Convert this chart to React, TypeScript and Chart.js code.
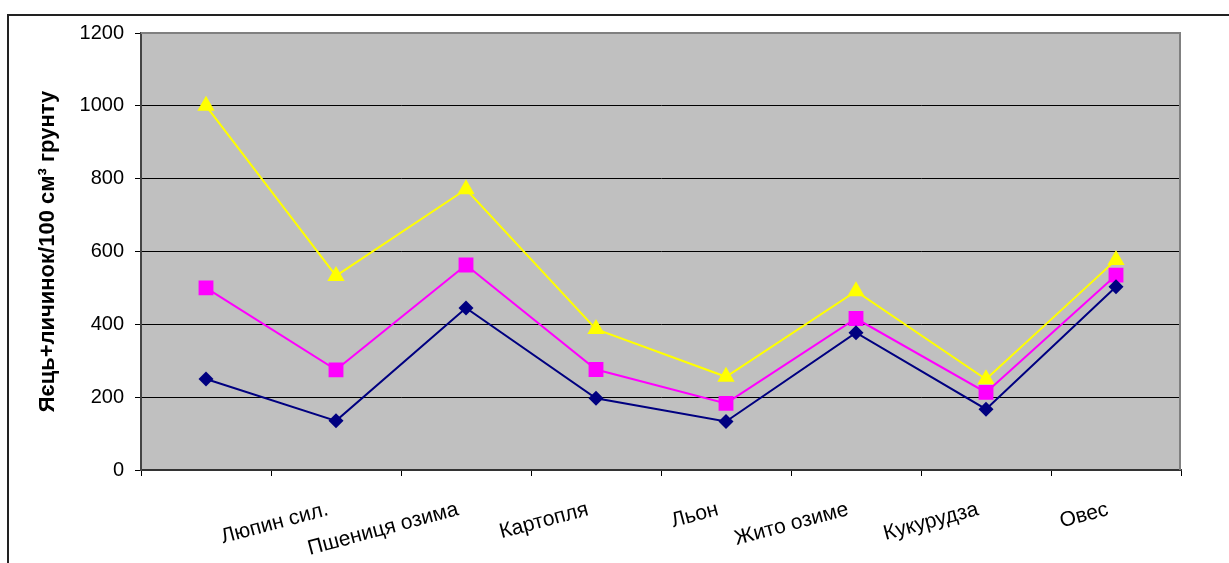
import React, { useEffect, useRef } from 'react';
import { Chart, registerables } from 'chart.js';

Chart.register(...registerables);

// Categories (first category has no label in the original)
const categories: string[] = ['', 'Люпин сил.', 'Пшениця озима', 'Картопля', 'Льон', 'Жито озиме', 'Кукурудза', 'Овес'];

// Series values
const series1: number[] = [250, 135, 445, 197, 133, 377, 167, 503];
const series2: number[] = [500, 275, 563, 276, 183, 416, 213, 535];
const series3: number[] = [1000, 533, 771, 387, 256, 491, 249, 577];

// Y axis
const yMin = 0;
const yMax = 1200;
const yStep = 200;
const yTitle = 'Яєць+личинок/100 см³ грунту';

const FONT = '"Liberation Sans", Arial, sans-serif';

const framePlugin = {
  id: 'frame',
  beforeDraw(chart: any) {
    const { ctx, chartArea } = chart;
    ctx.save();
    ctx.fillStyle = '#ffffff';
    ctx.fillRect(0, 0, chart.width, chart.height);
    ctx.strokeStyle = '#222222';
    ctx.lineWidth = 2;
    ctx.strokeRect(8, 15, 3000, 3000);
    ctx.fillStyle = '#C0C0C0';
    ctx.fillRect(chartArea.left, chartArea.top, chartArea.right - chartArea.left, chartArea.bottom - chartArea.top);
    ctx.restore();
  },
  beforeDatasetsDraw(chart: any) {
    const { ctx, chartArea } = chart;
    ctx.save();
    ctx.strokeStyle = '#808080';
    ctx.lineWidth = 2;
    ctx.beginPath();
    ctx.moveTo(chartArea.left, chartArea.top);
    ctx.lineTo(chartArea.right - 1, chartArea.top);
    ctx.lineTo(chartArea.right - 1, chartArea.bottom);
    ctx.stroke();
    ctx.restore();
  },
};

export default function App() {
  const canvasRef = useRef<HTMLCanvasElement | null>(null);

  useEffect(() => {
    if (!canvasRef.current) return;
    const chart = new Chart(canvasRef.current, {
      type: 'line',
      data: {
        labels: categories,
        datasets: [
          {
            label: 'Ряд 1',
            data: series1,
            borderColor: '#000080',
            backgroundColor: '#000080',
            borderWidth: 2,
            pointStyle: 'rectRot',
            pointRadius: 7.5,
            pointBorderWidth: 0,
            tension: 0,
          },
          {
            label: 'Ряд 2',
            data: series2,
            borderColor: '#FF00FF',
            backgroundColor: '#FF00FF',
            borderWidth: 2,
            pointStyle: 'rect',
            pointRadius: 10.5,
            pointBorderWidth: 0,
            tension: 0,
          },
          {
            label: 'Ряд 3',
            data: series3,
            borderColor: '#FFFF00',
            backgroundColor: '#FFFF00',
            borderWidth: 2,
            pointStyle: 'triangle',
            pointRadius: 10,
            pointBorderWidth: 0,
            tension: 0,
          },
        ],
      },
      options: {
        animation: false,
        responsive: false,
        layout: { padding: { left: 29, top: 33, right: 48, bottom: 0 } },
        plugins: {
          legend: { display: false },
          tooltip: { enabled: false },
        },
        scales: {
          x: {
            type: 'category',
            offset: true,
            grid: {
              offset: true,
              drawOnChartArea: false,
              drawTicks: true,
              tickLength: 6,
              color: '#000000',
            },
            border: { display: true, color: '#333333', width: 2 },
            ticks: {
              autoSkip: false,
              minRotation: 15,
              maxRotation: 15,
              padding: 21,
              labelOffset: -8,
              color: '#000000',
              font: { family: FONT, size: 21 },
            },
            afterFit(scale: any) {
              scale.height = 93;
            },
          },
          y: {
            min: yMin,
            max: yMax,
            ticks: {
              stepSize: yStep,
              padding: 11,
              color: '#000000',
              font: { family: FONT, size: 20 },
              callback: (v: any) => String(v),
            },
            grid: {
              color: '#000000',
              lineWidth: 1,
              tickLength: 6,
            },
            border: { display: true, color: '#444444', width: 2 },
            title: {
              display: true,
              text: yTitle,
              color: '#000000',
              font: { family: FONT, size: 22, weight: 'bold' },
              padding: { top: 6, bottom: 0 },
            },
            afterFit(scale: any) {
              scale.width = 141 - 29;
            },
          },
        },
      },
      plugins: [framePlugin],
    } as any);
    return () => chart.destroy();
  }, []);

  return (
    <div style={{ position: 'fixed', left: 0, top: 0, width: 1229, height: 563, overflow: 'hidden', background: '#fff' }}>
      <canvas ref={canvasRef} width={1229} height={563} style={{ display: 'block', width: 1229, height: 563 }} />
    </div>
  );
}
